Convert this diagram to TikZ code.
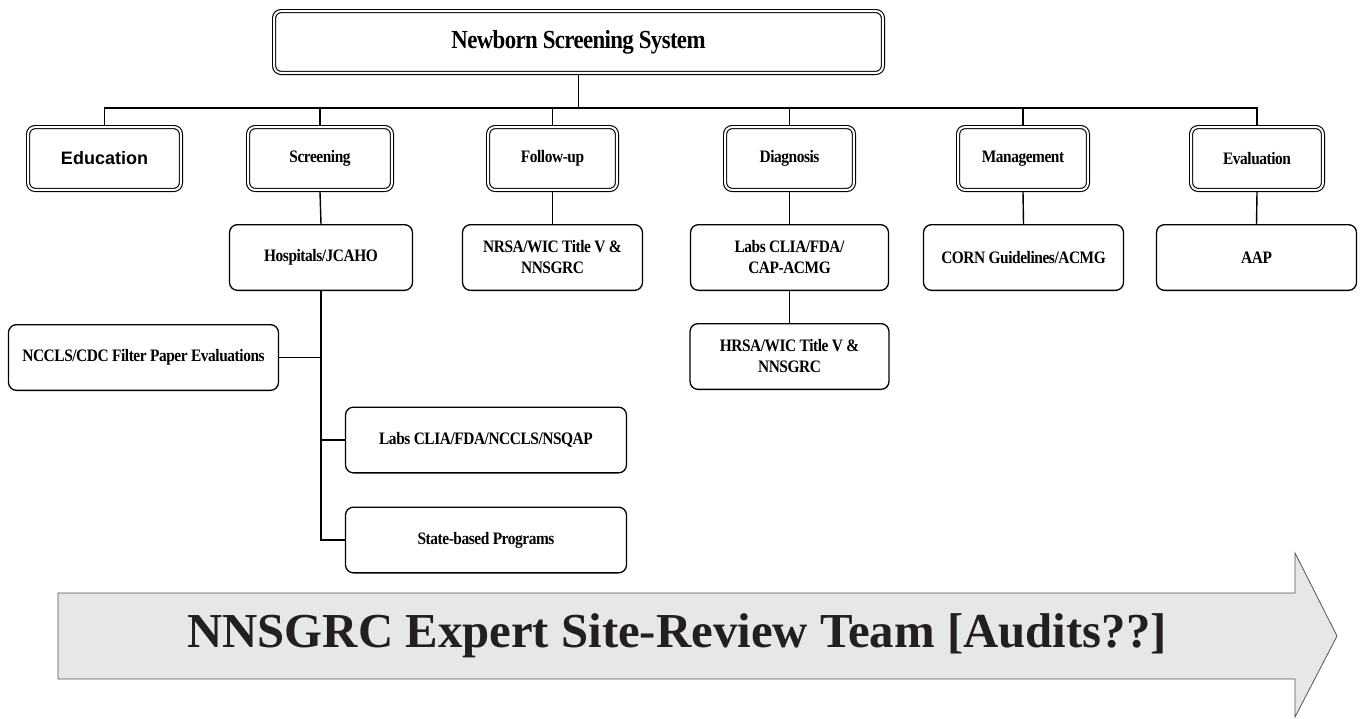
\documentclass[tikz,border=0pt]{standalone}
\usepackage{fontspec}
\setmainfont{Liberation Serif}
\newfontfamily\boxf[LetterSpace=-2.5,FakeStretch=0.88]{Liberation Serif}
\newfontfamily\sansf{Liberation Sans}
\definecolor{arrowfill}{HTML}{E6E7E9}
\definecolor{arrowline}{HTML}{555555}
\definecolor{ink}{HTML}{231F20}
\begin{document}
\begin{tikzpicture}[x=1pt,y=-1pt,
  boxtext/.style={font=\boxf\bfseries\fontsize{17.5}{21}\selectfont},
  dbox/.style={draw, double=white, double distance=2pt, line width=1.1pt,
    rounded corners=7pt, minimum height=62.8pt, inner sep=0pt, outer sep=2.1pt,
    align=center, boxtext},
  sbox/.style={draw, line width=1.3pt, rounded corners=8pt, minimum height=65.7pt,
    inner sep=0pt, align=center, boxtext},
  link/.style={line width=1.4pt}]
\useasboundingbox (0,0) rectangle (1362,718);

% top
\node[dbox, minimum width=608.8pt, minimum height=61.8pt,
  font=\boxf\bfseries\fontsize{26}{30}\selectfont] (top) at (578.5,42) {Newborn Screening System};

% second row
\node[dbox, minimum width=152.8pt, font=\sansf\bfseries\fontsize{18}{21}\selectfont] (edu) at (104.5,158.5) {Education};
\node[dbox, minimum width=143.8pt] (scr) at (320,158.5) {Screening};
\node[dbox, minimum width=128.8pt] (fol) at (552.5,158.5) {Follow-up};
\node[dbox, minimum width=128.8pt] (dia) at (789.5,158.5) {Diagnosis};
\node[dbox, minimum width=129.8pt] (man) at (1023,158.5) {Management};
\node[dbox, minimum width=131.8pt] (evl) at (1257,158.5) {Evaluation};

% third row
\node[sbox, minimum width=183pt] (hosp) at (321,257.5) {Hospitals/JCAHO};
\node[sbox, minimum width=180pt] (nrsa) at (552.5,257.5) {NRSA/WIC Title V \&\\NNSGRC};
\node[sbox, minimum width=198pt] (cap) at (789.5,257.5) {Labs CLIA/FDA/\\CAP-ACMG};
\node[sbox, minimum width=200pt] (corn) at (1023.5,257.5) {CORN Guidelines/ACMG};
\node[sbox, minimum width=200pt] (aap) at (1256.5,257.5) {AAP};

% lower
\node[sbox, minimum width=199pt] (hrsa) at (789.5,356.5) {HRSA/WIC Title V \&\\NNSGRC};
\node[sbox, minimum width=270pt] (nccls) at (143.5,357.5) {NCCLS/CDC Filter Paper Evaluations};
\node[sbox, minimum width=281pt] (labs) at (486,440) {Labs CLIA/FDA/NCCLS/NSQAP};
\node[sbox, minimum width=281pt] (state) at (486,540) {State-based Programs};

% connectors
\coordinate (bus) at (577,108);
\draw[link] (top.south) -- (top.south |- bus);
\draw[link] (edu.north) |- (evl.north |- bus) -- (evl.north);
\foreach \n in {scr,fol,dia,man}{\draw[link] (\n.north) -- (\n.north |- bus);}
\draw[link] (scr.south) -- (hosp.north);
\draw[link] (fol.south) -- (nrsa.north);
\draw[link] (dia.south) -- (cap.north);
\draw[link] (man.south) -- (corn.north);
\draw[link] (evl.south) -- (aap.north);
\draw[link] (cap.south) -- (hrsa.north);
\draw[link] (hosp.south) |- (state.west);
\draw[link] (hosp.south |- nccls.east) -- (nccls.east);
\draw[link] (hosp.south |- labs.west) -- (labs.west);

% big arrow
\draw[fill=arrowfill, draw=arrowline, line width=0.8pt]
  (58,593) -- (1295,593) -- (1295,553) -- (1337,636) -- (1295,717) -- (1295,679) -- (58,679) -- cycle;
\node[font=\bfseries\fontsize{48.8}{52}\selectfont, text=ink] (banner) at (677,636) {NNSGRC Expert Site-Review Team [Audits??]};
\end{tikzpicture}
\end{document}
